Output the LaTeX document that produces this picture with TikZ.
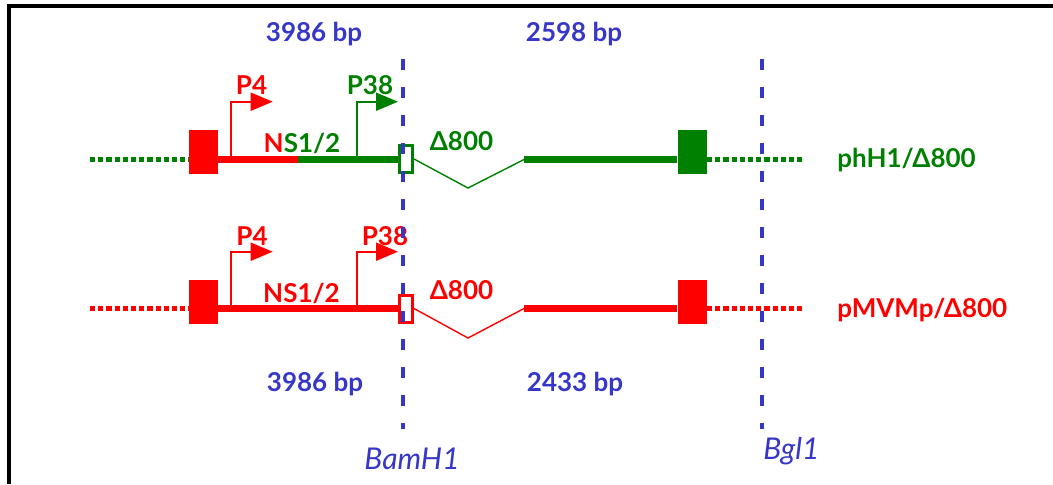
\documentclass[tikz,border=0pt]{standalone}
\usepackage{fontspec}
\setmainfont{Lato}
\usetikzlibrary{arrows.meta,positioning}

\definecolor{vgreen}{HTML}{008000}
\definecolor{vred}{HTML}{FF0000}
\definecolor{siteblue}{HTML}{3636C8}

\tikzset{
  exon/.style={minimum width=14.5pt, minimum height=22pt, inner sep=0pt},
  junction/.style={line width=1.5pt, fill=white, minimum width=6.5pt, minimum height=13.5pt, inner sep=0pt},
  dna/.style={line width=3.2pt},
  flank/.style={line width=2.2pt, dash pattern=on 2.6pt off 1.5pt},
  deleted/.style={line width=0.7pt},
  prom/.style={line width=1pt, -{Triangle[length=11pt,width=9pt]}},
  lbl/.style={font=\fontsize{13}{15}\selectfont\bfseries, inner sep=0pt},
  bplbl/.style={lbl, text=siteblue},
  site/.style={siteblue, line width=2pt, dash pattern=on 5.5pt off 8.5pt},
  sitelbl/.style={text=siteblue, font=\fontsize{15}{17}\selectfont\itshape, inner sep=0pt},
}

\begin{document}
\begin{tikzpicture}[x=0.5pt,y=-0.5pt]
  \useasboundingbox (0,0) rectangle (1053,484);

  % frame, cut at the bottom and right
  \coordinate (fbl) at (9,484);
  \coordinate (ftl) at (9,6);
  \coordinate (ftr) at (1053,6);
  \draw[line width=2pt] (fbl) -- (ftl) -- (ftr);

  % phH1 row
  \coordinate (t0)   at (90,159.5);
  \coordinate (t1)   at (803,159.5);
  \coordinate (tns)  at (298,159.5);
  \coordinate (tdip) at (468,188);
  \coordinate (tr0)  at (524,159.5);
  \node[exon, fill=vred]   (tlb)  at (203.5,152) {};
  \node[exon, fill=vgreen] (trb)  at (692,152)   {};
  \node[junction, draw=vgreen] (tgap) at (406,159) {};

  \draw[flank, vgreen] (t0) -- (t0 -| tlb.west);
  \draw[dna, vred]     (tlb.east |- t0) -- (tns);
  \draw[dna, vgreen]   (tns) -- (tns -| tgap.west);
  \draw[deleted, vgreen] (tgap.east) -- (tdip) -- (tr0);
  \draw[dna, vgreen]   (tr0) -- (tr0 -| trb.west);
  \draw[flank, vgreen] (trb.east |- t1) -- (t1);

  \coordinate (tp4)    at (231,159.5);
  \coordinate (tp4tip) at (272.7,101.7);
  \coordinate (tp38)    at (356.7,159.5);
  \coordinate (tp38tip) at (398,101.7);
  \draw[prom, vred]   (tp4) |- (tp4tip);
  \draw[prom, vgreen] (tp38) |- (tp38tip);

  \node[lbl, text=vred]   (tp4lbl)  at (251.5,85) {P4};
  \node[lbl, text=vgreen] (tp38lbl) at (370,85)   {P38};
  \node[lbl]              (tnslbl)  at (302,143)  {\textcolor{vred}{N}\textcolor{vgreen}{S1/2}};
  \node[lbl, text=vgreen] (tdellbl) at (461.5,141) {Δ800};
  \node[lbl, text=vgreen, anchor=west] (tname) at (837,160) {phH1/Δ800};

  % pMVMp row
  \coordinate (b0)   at (90,308.5);
  \coordinate (b1)   at (803,308.5);
  \coordinate (bdip) at (468,338);
  \coordinate (br0)  at (524,308.5);
  \node[exon, fill=vred]  (blb)  at (203.5,301.5) {};
  \node[exon, fill=vred]  (brb)  at (692,301.5)   {};
  \node[junction, draw=vred] (bgap) at (406,308.5) {};

  \draw[flank, vred] (b0) -- (b0 -| blb.west);
  \draw[dna, vred]   (blb.east |- b0) -- (b0 -| bgap.west);
  \draw[deleted, vred] (bgap.east) -- (bdip) -- (br0);
  \draw[dna, vred]   (br0) -- (br0 -| brb.west);
  \draw[flank, vred] (brb.east |- b1) -- (b1);

  \coordinate (bp4)    at (231,308.5);
  \coordinate (bp4tip) at (272.7,251.7);
  \coordinate (bp38)    at (357,308.5);
  \coordinate (bp38tip) at (398,251.7);
  \draw[prom, vred] (bp4) |- (bp4tip);
  \draw[prom, vred] (bp38) |- (bp38tip);

  \node[lbl, text=vred] (bp4lbl)  at (252,236)   {P4};
  \node[lbl, text=vred] (bp38lbl) at (385,236)   {P38};
  \node[lbl, text=vred] (bnslbl)  at (301.5,293) {NS1/2};
  \node[lbl, text=vred] (bdellbl) at (461.5,290) {Δ800};
  \node[lbl, text=vred, anchor=west] (bname) at (837,310) {pMVMp/Δ800};

  % fragment sizes
  \node[bplbl] (tleft)  at (314,34)  {3986 bp};
  \node[bplbl] (tright) at (574,34)  {2598 bp};
  \node[bplbl] (bleft)  at (315,384) {3986 bp};
  \node[bplbl] (bright) at (575,384) {2433 bp};

  % restriction sites
  \coordinate (bamtop) at (403.3,59);
  \coordinate (bambot) at (403.3,429);
  \coordinate (bgltop) at (761.7,59);
  \coordinate (bglbot) at (761.7,429);
  \draw[site] (bamtop) -- (bambot);
  \draw[site] (bgltop) -- (bglbot);
  \node[sitelbl] (bam) at (412,459)   {BamH1};
  \node[sitelbl] (bgl) at (791.5,451) {Bgl1};
\end{tikzpicture}
\end{document}
